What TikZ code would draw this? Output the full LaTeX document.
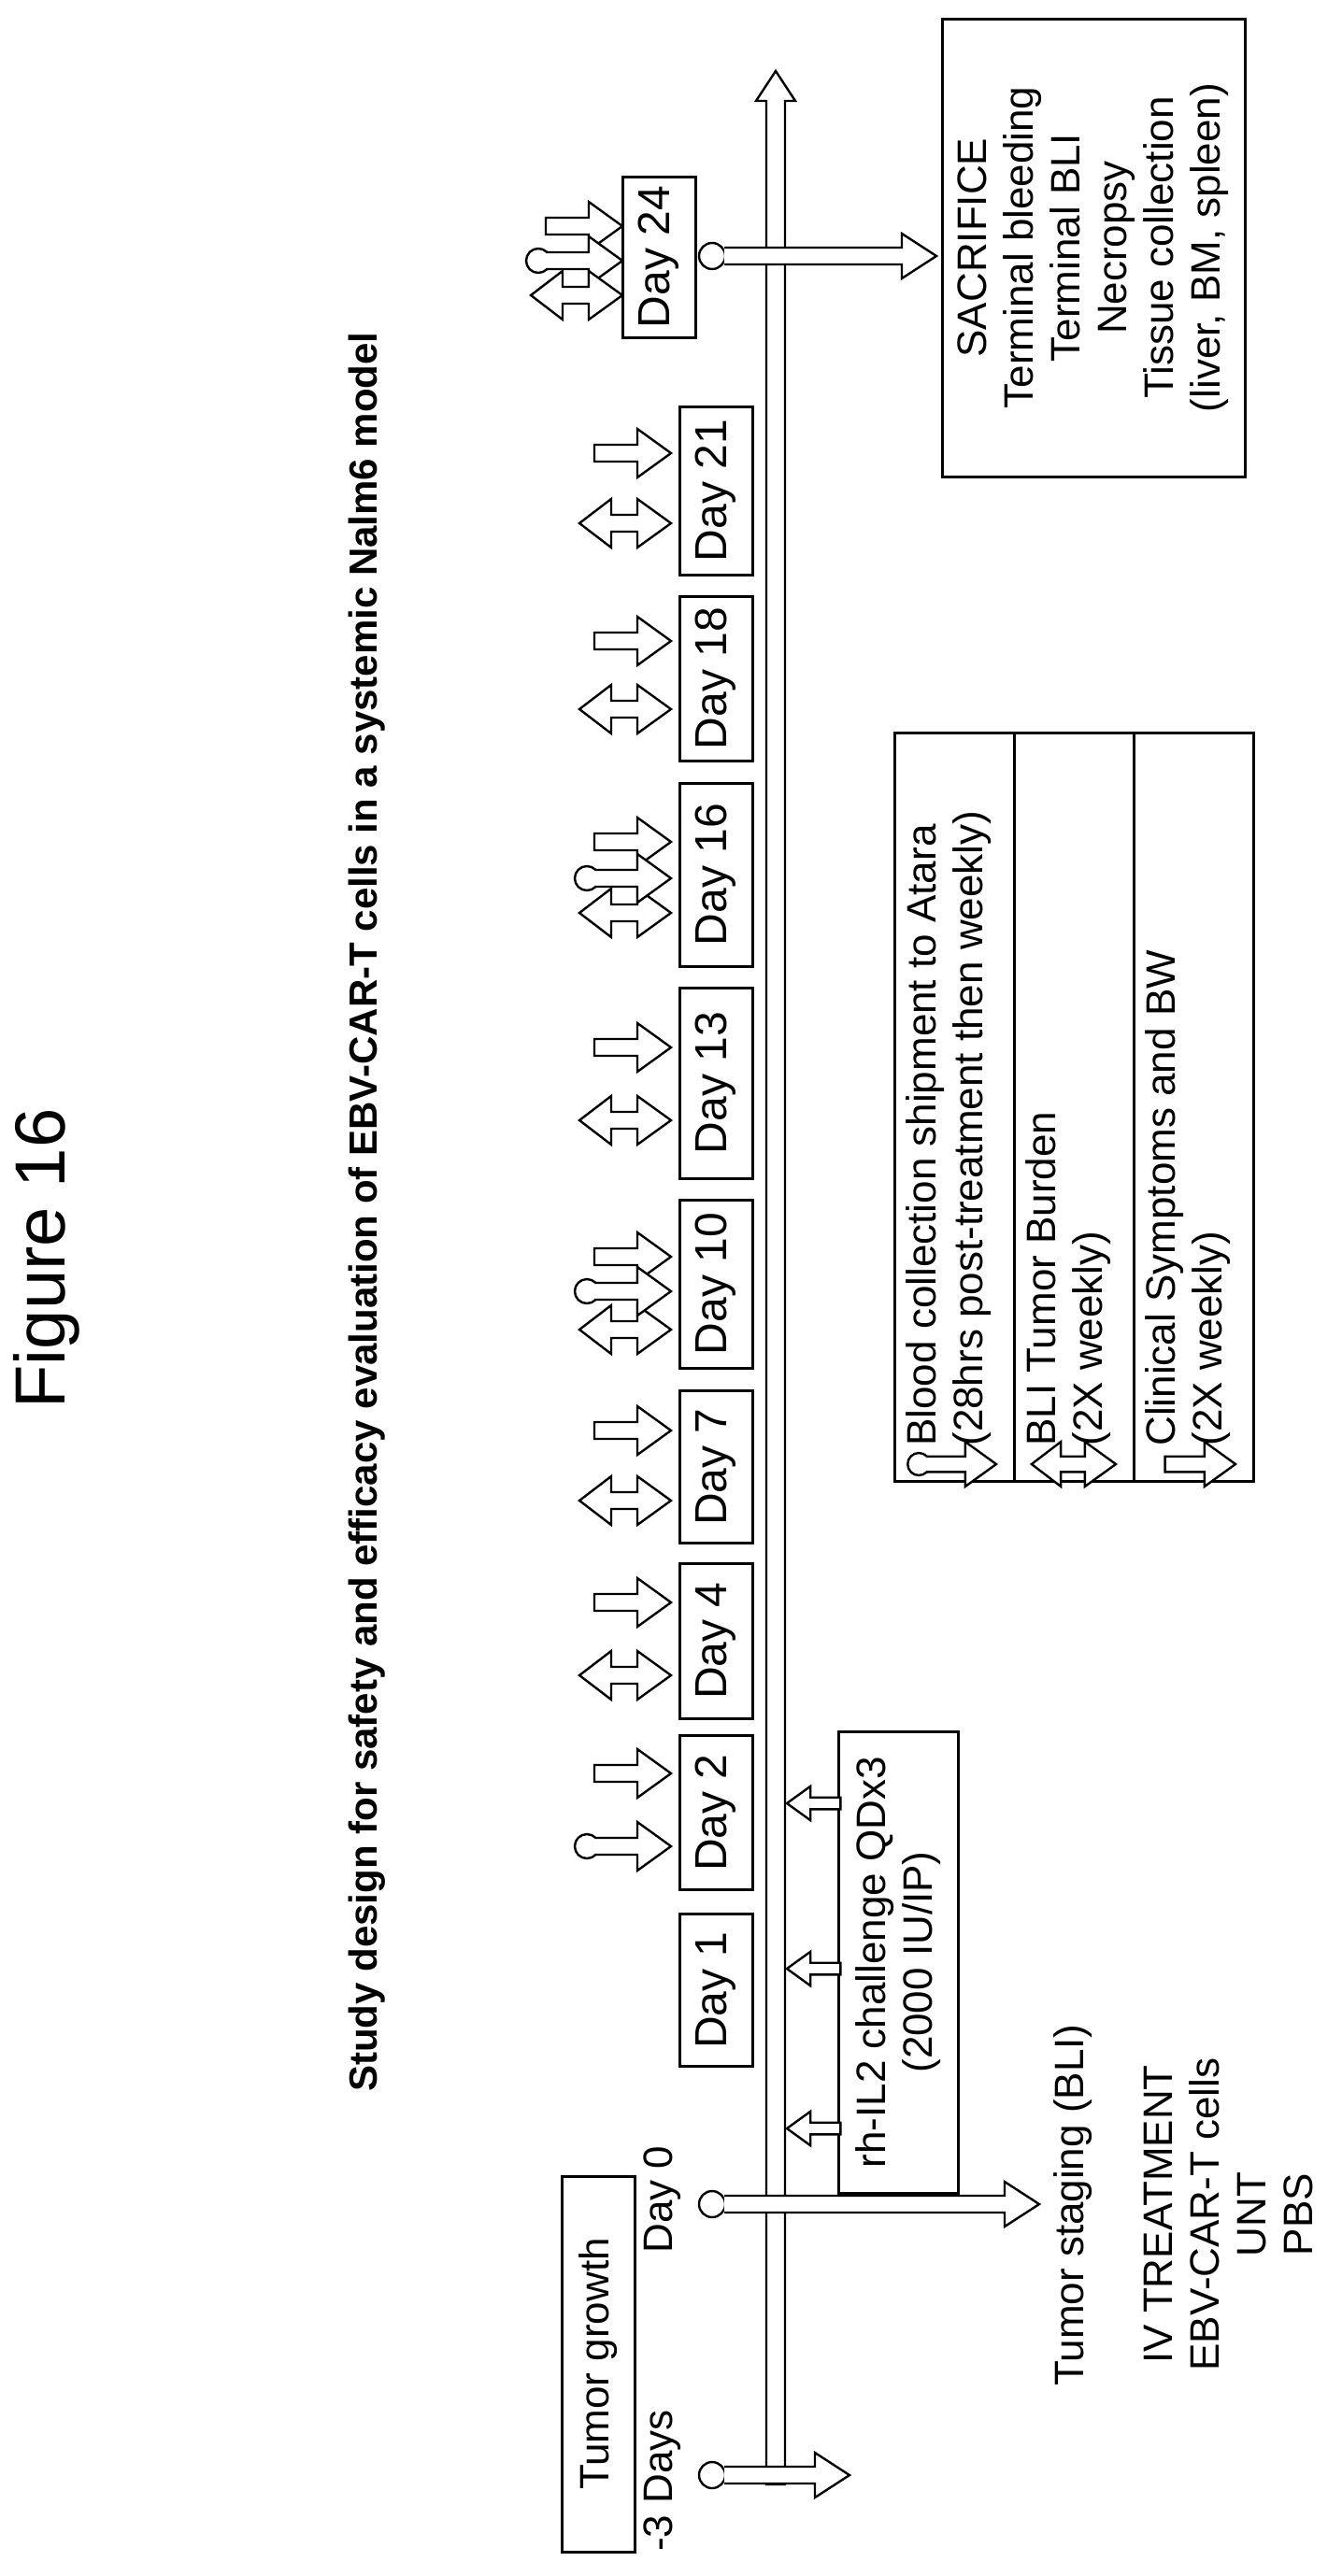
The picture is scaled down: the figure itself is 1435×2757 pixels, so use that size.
\documentclass[tikz,border=0pt]{standalone}
\usepackage{fontspec}
\setmainfont{Liberation Sans}
\usepackage{tikz}
\usetikzlibrary{calc,positioning}

\tikzset{
  txt/.style={rotate=90,inner sep=0pt,font=\fontsize{22}{25}\selectfont,align=center},
  daybox/.style={draw,line width=1.5pt,rotate=90,minimum height=39pt,inner sep=0pt,font=\fontsize{24}{24}\selectfont},
  arr/.style={draw,line width=1.2pt,fill=white,line join=miter},
  plain arrow/.pic={\draw[arr] (-82,-9) -- (-36,-9) -- (-36,-26) -- (0,0) -- (-36,26) -- (-36,9) -- (-82,9) -- cycle;},
  bli arrow/.pic={\draw[arr] (-64,-9) -- (-36,-9) -- (-36,-26) -- (0,0) -- (-36,26) -- (-36,9) -- (-64,9) -- (-64,26) -- (-98,0) -- (-64,-26) -- cycle;},
  blood arrow/.pic={\draw[arr] (-90,0) circle (13);
    \draw[arr] (-81,-9) -- (-36,-9) -- (-36,-26) -- (0,0) -- (-36,26) -- (-36,9) -- (-81,9);}
}
\newcommand{\stem}[3]{% name, y, tip x
  \draw[arr] (762,#2) circle (14);
  \draw[arr] (775,#2-9) -- (#3-37,#2-9) -- (#3-37,#2-24) -- (#3,#2) -- (#3-37,#2+24) -- (#3-37,#2+9) -- (775,#2+9);
  \coordinate (#1) at (#3,#2);}

\begin{document}
\begin{tikzpicture}[x=0.5pt,y=-0.5pt]
\useasboundingbox (0,0) rectangle (1435,2757);

\node[rotate=90,font=\fontsize{38}{38}\selectfont] (fig) at (50,1347) {Figure 16};
\node[rotate=90,font=\bfseries\fontsize{21}{21}\selectfont] (title) at (393,1297)
  {Study design for safety and efficacy evaluation of EBV-CAR-T cells in a systemic Nalm6 model};

% timeline
\draw[arr] (820,2659) -- (820,108) -- (809,108) -- (830,76) -- (851,108) -- (840,108) -- (840,2659) -- cycle;
\stem{m3}{2649}{909}
\stem{d0}{2359}{1112}
\stem{d24}{274}{1002}

% day boxes
\foreach \lab/\yc/\len in {1/2130/163, 2/1940/165, 4/1756/166, 7/1570/163, 10/1374/180,
    13/1159/204, 16/936/196, 18/726/176, 21/525/180}
  \node[daybox,minimum width=\len*0.5pt] (day\lab) at (766,\yc) {Day \lab};
\node[daybox,minimum width=86pt] (day24) at (705,275) {Day 24};

% event arrows
\foreach \y in {1898,1715,1531,1345,1121,901,686,485} \pic at (718,\y) {plain arrow};
\foreach \y in {1793,1606,1423,1199,977,759,560} \pic at (718,\y) {bli arrow};
\foreach \y in {1976,1382,940} \pic at (718,\y) {blood arrow};
\pic at (666,242) {plain arrow};
\pic at (666,279) {blood arrow};
\pic at (666,316) {bli arrow};

% rh-IL2
\node[draw,line width=1.5pt,rotate=90,minimum width=247pt,minimum height=64pt,inner sep=0pt,
  font=\fontsize{22}{25}\selectfont,align=center] (il2) at (961,2100)
  {rh-IL2 challenge QDx3\\(2000 IU/IP)};
\foreach \y in {1930,2107,2278} \pic[xscale=-1,scale=.7] at (842,\y) {plain arrow};

% left labels
\node[draw,line width=1.5pt,rotate=90,minimum width=201pt,minimum height=39pt,inner sep=0pt,
  font=\fontsize{22}{22}\selectfont] (growth) at (640,2530) {Tumor growth};
\node[txt] (lm3) at (709,2655) {-3 Days};
\node[txt] (ld0) at (709,2354) {Day 0};
\node[txt] (staging) at (1148,2360) {Tumor staging (BLI)};
\node[txt] (ivt) at (1315,2370) {IV TREATMENT\\EBV-CAR-T cells\\UNT\\PBS};

% sacrifice
\node[draw,line width=1.5pt,rotate=90,minimum width=245pt,minimum height=162pt,inner sep=0pt,
  font=\fontsize{22}{25}\selectfont,align=center] (sac) at (1170,265)
  {SACRIFICE\\Terminal bleeding\\Terminal BLI\\Necropsy\\Tissue collection\\(liver, BM, spleen)};

% legend
\draw[line width=1.5pt] (957,784) rectangle (1341,1585);
\draw[line width=1.5pt] (1085,784) -- (1085,1585) (1213,784) -- (1213,1585);
\node[txt,align=left,anchor=north west] (lg1) at (969,1548) {Blood collection shipment to Atara\\(28hrs post-treatment then weekly)};
\node[txt,align=left,anchor=north west] (lg2) at (1097,1548) {BLI Tumor Burden\\(2X weekly)};
\node[txt,align=left,anchor=north west] (lg3) at (1225,1548) {Clinical Symptoms and BW\\(2X weekly)};
\pic[scale=.92] at (1066,1567) {blood arrow};
\pic[scale=.92] at (1194,1567) {bli arrow};
\pic[scale=.92] at (1322,1567) {plain arrow};
\end{tikzpicture}
\end{document}
